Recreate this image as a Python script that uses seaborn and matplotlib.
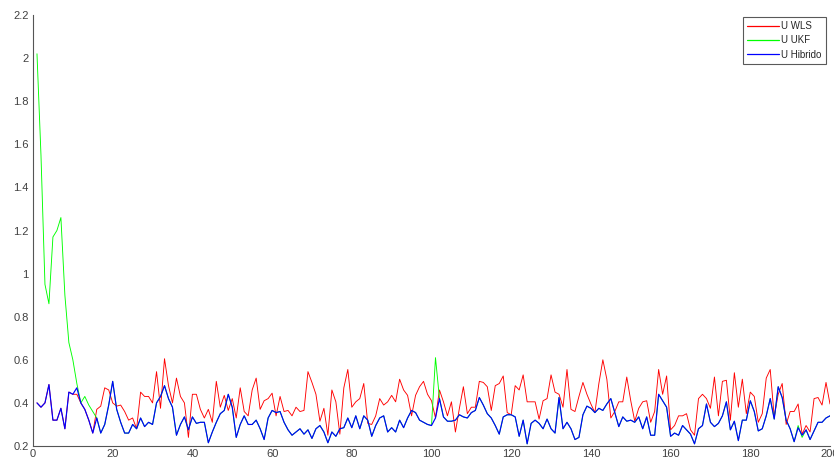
import numpy as np
import pandas as pd
import matplotlib
matplotlib.use("Agg")
import matplotlib.pyplot as plt
import seaborn as sns

# sample index
steps = list(range(1, 201))

u_wls = [
    0.40, 0.38, 0.40, 0.485, 0.32, 0.32, 0.375, 0.28, 0.45, 0.44,
    0.44, 0.40, 0.37, 0.32, 0.26, 0.37, 0.385, 0.47, 0.46, 0.40,
    0.385, 0.39, 0.36, 0.32, 0.33, 0.28, 0.45, 0.43, 0.43, 0.40,
    0.545, 0.375, 0.605, 0.48, 0.40, 0.515, 0.43, 0.40, 0.24, 0.44,
    0.44, 0.37, 0.33, 0.37, 0.31, 0.50, 0.38, 0.435, 0.365, 0.42,
    0.33, 0.47, 0.36, 0.34, 0.46, 0.515, 0.37, 0.41, 0.42, 0.445,
    0.34, 0.43, 0.36, 0.365, 0.34, 0.38, 0.36, 0.365, 0.545, 0.495,
    0.44, 0.315, 0.375, 0.25, 0.46, 0.405, 0.255, 0.47, 0.555, 0.38,
    0.405, 0.42, 0.49, 0.305, 0.30, 0.34, 0.42, 0.39, 0.405, 0.435,
    0.405, 0.51, 0.46, 0.435, 0.34, 0.435, 0.475, 0.50, 0.44, 0.41,
    0.33, 0.46, 0.405, 0.34, 0.405, 0.265, 0.375, 0.475, 0.35, 0.38,
    0.38, 0.50, 0.495, 0.475, 0.365, 0.48, 0.49, 0.525, 0.355, 0.345,
    0.48, 0.46, 0.53, 0.405, 0.405, 0.405, 0.325, 0.41, 0.42, 0.53,
    0.45, 0.44, 0.38, 0.555, 0.37, 0.36, 0.43, 0.495, 0.44, 0.395,
    0.355, 0.49, 0.60, 0.51, 0.33, 0.36, 0.405, 0.405, 0.52, 0.41,
    0.315, 0.375, 0.405, 0.41, 0.31, 0.36, 0.555, 0.44, 0.525, 0.275,
    0.295, 0.34, 0.34, 0.35, 0.275, 0.25, 0.42, 0.44, 0.42, 0.375,
    0.52, 0.34, 0.50, 0.505, 0.32, 0.54, 0.38, 0.51, 0.35, 0.45,
    0.43, 0.31, 0.35, 0.515, 0.555, 0.335, 0.44, 0.49, 0.30, 0.36,
    0.36, 0.395, 0.255, 0.295, 0.265, 0.42, 0.425, 0.39, 0.495, 0.395,
]

u_ukf = [
    2.02, 1.55, 0.95, 0.86, 1.17, 1.20, 1.26, 0.90, 0.68, 0.60,
    0.49, 0.40, 0.43, 0.39, 0.36, 0.33, 0.26, 0.30, 0.39, 0.50,
    0.37, 0.31, 0.26, 0.26, 0.30, 0.28, 0.33, 0.29, 0.31, 0.30,
    0.40, 0.43, 0.48, 0.42, 0.38, 0.25, 0.30, 0.335, 0.275, 0.335,
    0.305, 0.31, 0.31, 0.215, 0.265, 0.31, 0.35, 0.365, 0.44, 0.38,
    0.24, 0.30, 0.34, 0.30, 0.30, 0.32, 0.28, 0.23, 0.33, 0.365,
    0.355, 0.36, 0.31, 0.275, 0.25, 0.265, 0.28, 0.255, 0.275, 0.235,
    0.28, 0.295, 0.265, 0.215, 0.265, 0.245, 0.28, 0.285, 0.33, 0.285,
    0.34, 0.28, 0.34, 0.32, 0.245, 0.295, 0.33, 0.34, 0.265, 0.285,
    0.265, 0.32, 0.285, 0.33, 0.365, 0.355, 0.32, 0.31, 0.30, 0.295,
    0.61, 0.42, 0.335, 0.315, 0.315, 0.32, 0.345, 0.335, 0.33, 0.355,
    0.365, 0.425, 0.39, 0.35, 0.33, 0.295, 0.255, 0.335, 0.345, 0.345,
    0.335, 0.245, 0.32, 0.21, 0.305, 0.32, 0.305, 0.28, 0.325, 0.28,
    0.26, 0.425, 0.28, 0.31, 0.28, 0.23, 0.24, 0.345, 0.385, 0.375,
    0.355, 0.375, 0.365, 0.395, 0.42, 0.355, 0.29, 0.335, 0.315, 0.32,
    0.31, 0.335, 0.28, 0.335, 0.25, 0.25, 0.44, 0.41, 0.38, 0.245,
    0.26, 0.25, 0.295, 0.275, 0.255, 0.21, 0.28, 0.295, 0.395, 0.31,
    0.29, 0.305, 0.34, 0.405, 0.275, 0.315, 0.225, 0.32, 0.32, 0.41,
    0.36, 0.27, 0.28, 0.34, 0.42, 0.325, 0.475, 0.425, 0.32, 0.28,
    0.22, 0.295, 0.24, 0.275, 0.23, 0.27, 0.31, 0.31, 0.33, 0.34,
]

u_hibrido = [
    0.40, 0.38, 0.40, 0.485, 0.32, 0.32, 0.375, 0.28, 0.45, 0.44,
    0.47, 0.40, 0.37, 0.32, 0.26, 0.33, 0.26, 0.30, 0.39, 0.50,
    0.37, 0.31, 0.26, 0.26, 0.30, 0.28, 0.33, 0.29, 0.31, 0.30,
    0.40, 0.43, 0.48, 0.42, 0.38, 0.25, 0.30, 0.335, 0.275, 0.335,
    0.305, 0.31, 0.31, 0.215, 0.265, 0.31, 0.35, 0.365, 0.44, 0.38,
    0.24, 0.30, 0.34, 0.30, 0.30, 0.32, 0.28, 0.23, 0.33, 0.365,
    0.355, 0.36, 0.31, 0.275, 0.25, 0.265, 0.28, 0.255, 0.275, 0.235,
    0.28, 0.295, 0.265, 0.215, 0.265, 0.245, 0.28, 0.285, 0.33, 0.285,
    0.34, 0.28, 0.34, 0.32, 0.245, 0.295, 0.33, 0.34, 0.265, 0.285,
    0.265, 0.32, 0.285, 0.33, 0.365, 0.355, 0.32, 0.31, 0.30, 0.295,
    0.33, 0.42, 0.335, 0.315, 0.315, 0.32, 0.345, 0.335, 0.33, 0.355,
    0.365, 0.425, 0.39, 0.35, 0.33, 0.295, 0.255, 0.335, 0.345, 0.345,
    0.335, 0.245, 0.32, 0.21, 0.305, 0.32, 0.305, 0.28, 0.325, 0.28,
    0.26, 0.425, 0.28, 0.31, 0.28, 0.23, 0.24, 0.345, 0.385, 0.375,
    0.355, 0.375, 0.365, 0.395, 0.42, 0.355, 0.29, 0.335, 0.315, 0.32,
    0.31, 0.335, 0.28, 0.335, 0.25, 0.25, 0.44, 0.41, 0.38, 0.245,
    0.26, 0.25, 0.295, 0.275, 0.255, 0.21, 0.28, 0.295, 0.395, 0.31,
    0.29, 0.305, 0.34, 0.405, 0.275, 0.315, 0.225, 0.32, 0.32, 0.41,
    0.36, 0.27, 0.28, 0.34, 0.42, 0.325, 0.475, 0.425, 0.32, 0.28,
    0.22, 0.285, 0.25, 0.275, 0.23, 0.27, 0.31, 0.31, 0.33, 0.34,
]

series_names = ["U WLS", "U UKF", "U Hibrido"]
series_colors = ["#ff0000", "#00ff00", "#0000ff"]
series_widths = [0.65, 0.65, 0.85]
x_ticks = list(range(0, 201, 20))
y_ticks = [0.2, 0.4, 0.6, 0.8, 1.0, 1.2, 1.4, 1.6, 1.8, 2.0, 2.2]
y_tick_labels = ["0.2", "0.4", "0.6", "0.8", "1", "1.2", "1.4", "1.6", "1.8", "2", "2.2"]

sns.set_style("white")
plt.rcParams["font.family"] = ["Liberation Sans", "DejaVu Sans"]

fig = plt.figure(figsize=(8.34, 4.61), dpi=100)
fig.patch.set_facecolor("white")
ax = fig.add_axes([33 / 834, 1 - 446 / 461, (830 - 33) / 834, (446 - 15) / 461])

for name, vals, col, lw in zip(series_names, [u_wls, u_ukf, u_hibrido],
                               series_colors, series_widths):
    sns.lineplot(x=steps, y=vals, ax=ax, color=col, label=name, linewidth=lw,
                 estimator=None, sort=False)

ax.set_xlim(0, 200)
ax.set_ylim(0.2, 2.2)
ax.set_xticks(x_ticks)
ax.set_xticklabels([str(t) for t in x_ticks])
ax.set_yticks(y_ticks)
ax.set_yticklabels(y_tick_labels)
ax.set_xlabel("")
ax.set_ylabel("")

for s in ["top", "right"]:
    ax.spines[s].set_visible(False)
for s in ["left", "bottom"]:
    ax.spines[s].set_color("#555555")
    ax.spines[s].set_linewidth(0.8)

ax.tick_params(axis="both", direction="in", length=5, width=0.8, color="#555555",
               labelsize=8, labelcolor="#404040", pad=3)
ax.tick_params(axis="x", pad=2)

leg = ax.legend(loc="upper right", bbox_to_anchor=(0.995, 0.9954), fontsize=7,
                frameon=True, fancybox=False, edgecolor="#303030",
                handlelength=3.3, handletextpad=0.2, borderpad=0.45,
                labelspacing=0.42, borderaxespad=0.0)
leg.get_frame().set_linewidth(0.8)
for line in leg.get_lines():
    line.set_linewidth(0.9)

fig.savefig("out.png", dpi=100, facecolor="white")
